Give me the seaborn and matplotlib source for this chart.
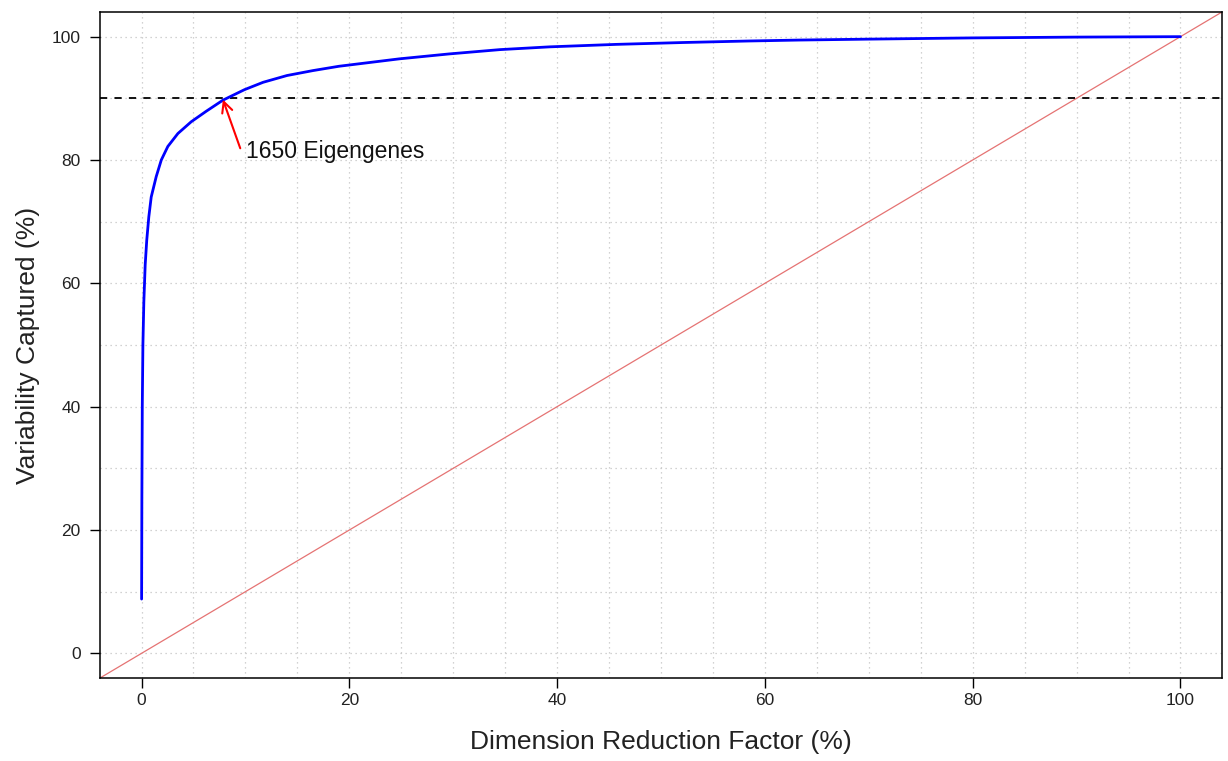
import numpy as np
import pandas as pd
import matplotlib
matplotlib.use("Agg")
import matplotlib.pyplot as plt
import seaborn as sns

# ---- data ----
reduction_pct = [0.005, 0.03, 0.07, 0.13, 0.22, 0.35, 0.5, 0.7, 0.93, 1.41, 1.9, 2.53,
                 3.5, 4.78, 6.22, 7.83, 9.9, 11.7, 14.0, 16.5, 19.0, 21.9, 24.8, 29.6,
                 34.5, 39.3, 45.7, 52.1, 58.5, 63.3, 70.0, 80.0, 90.0, 100.0]
variability_pct = [8.8, 25.0, 40.0, 50.0, 57.0, 63.0, 67.0, 70.8, 74.0, 77.3, 80.0, 82.2,
                   84.3, 86.2, 87.9, 89.7, 91.4, 92.6, 93.7, 94.5, 95.2, 95.8, 96.4, 97.2,
                   97.9, 98.35, 98.75, 99.05, 99.3, 99.45, 99.6, 99.8, 99.93, 100.0]
diag_x = [-4, 104]
diag_y = [-4, 104]
threshold = 90
annot_text = "1650 Eigengenes"
arrow_head = (7.83, 89.8)
arrow_tail = (9.5, 81.9)
text_pos = (10.1, 81.3)
x_ticks = [0, 20, 40, 60, 80, 100]
y_ticks = [0, 20, 40, 60, 80, 100]
x_label = "Dimension Reduction Factor (%)"
y_label = "Variability Captured (%)"

sns.set_theme(style="white")
plt.rcParams['font.family'] = ['Liberation Sans', 'DejaVu Sans']

fig = plt.figure(figsize=(12.28, 7.61), dpi=100)
ax = fig.add_axes([100/1228, 1 - 678/761, (1222-100)/1228, (678-12)/761])

# grid
for gx in np.arange(0, 101, 5):
    ax.axvline(gx, color='#c4c4c4', lw=0.9, ls=(0, (1, 3)), zorder=0)
for gy in np.arange(0, 101, 10):
    ax.axhline(gy, color='#c4c4c4', lw=0.9, ls=(0, (1, 3)), zorder=0)

df_curve = pd.DataFrame({"x": reduction_pct, "y": variability_pct})
df_diag = pd.DataFrame({"x": diag_x, "y": diag_y})

sns.lineplot(data=df_diag, x="x", y="y", ax=ax, color='#e57373', lw=0.9, sort=False, zorder=2)
ax.axhline(threshold, color='black', lw=1.3, ls=(0, (4, 4)), zorder=3)
sns.lineplot(data=df_curve, x="x", y="y", ax=ax, color='#0000ff', lw=2.0, sort=False, zorder=4)

ax.annotate('', xy=arrow_head, xytext=arrow_tail,
            arrowprops=dict(arrowstyle='->', color='red', lw=1.5,
                            shrinkA=0, shrinkB=0, mutation_scale=19),
            zorder=5)
ax.text(text_pos[0], text_pos[1], annot_text, fontsize=16.5, color='#111111',
        ha='left', va='center', zorder=5)

ax.set_xlim(-4, 104)
ax.set_ylim(-4, 104)
ax.set_xticks(x_ticks)
ax.set_yticks(y_ticks)
ax.set_xticklabels([str(t) for t in x_ticks], fontsize=12.5, color='#222222')
ax.set_yticklabels([str(t) for t in y_ticks], fontsize=12.5, color='#222222')
ax.tick_params(axis='both', direction='out', length=7, width=1, color='black',
               bottom=True, left=True, top=False, right=False)
ax.tick_params(axis='x', pad=4)
ax.tick_params(axis='y', pad=7)
ax.set_xlabel(x_label, fontsize=19, color='#222222', labelpad=16)
ax.set_ylabel(y_label, fontsize=19, color='#222222', labelpad=8)
for s in ax.spines.values():
    s.set_visible(True)
    s.set_color('black')
    s.set_linewidth(1.1)
ax.grid(False)

fig.savefig("out.png", dpi=100)
